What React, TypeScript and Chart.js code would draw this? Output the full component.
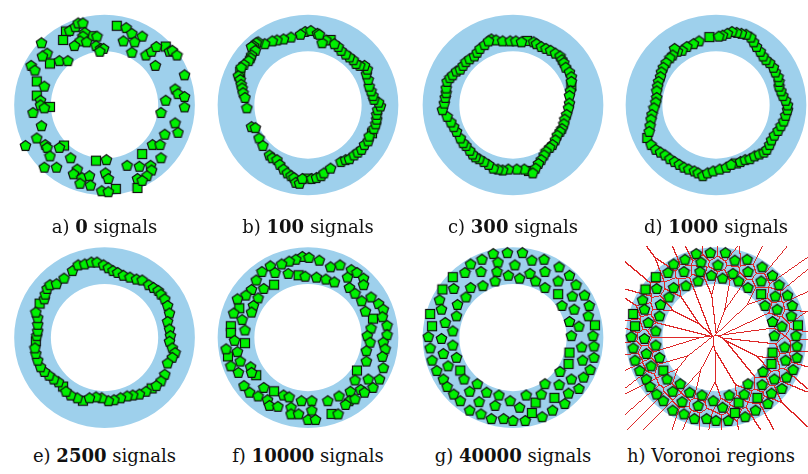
import React, { useEffect, useRef } from 'react';
import { Chart, registerables } from 'chart.js';

Chart.register(...registerables);

type P = [number, number];

// Ring geometry (data units: offsets from each ring centre)
const RING_OUTER = 96;
const RING_INNER = 57;

// a) 0 signals
const aPent: P[] = [[-37,-79],[-31,-83],[-28,-87],[-23,-87],[-21,-77],[-23,-73],[-26,-68],[-19,-67],[-8,-73],[-32,-63],[-9,-63],[-4,-60],[-1,-60],[-5,-57],[-67,-66],[-61,-55],[-66,-52],[-48,-47],[-39,-47],[-78,-42],[-74,-37],[23,-82],[29,-76],[40,-73],[20,-68],[32,-67],[29,-56],[44,-53],[50,-57],[55,-62],[69,-57],[72,-58],[77,-53],[54,-42],[85,-32],[-64,-20],[-68,-5],[-68,0],[-64,3],[-76,8],[-67,22],[-72,35],[-63,42],[-61,45],[-58,54],[-84,43],[-48,45],[-36,56],[75,-17],[78,-12],[85,-9],[65,-5],[85,2],[60,8],[75,19],[78,29],[64,31],[51,42],[59,42],[60,56],[-64,66],[-51,66],[-29,68],[-33,73],[-24,77],[-16,75],[-26,83],[-15,85],[2,58],[1,72],[4,78],[-3,91],[4,92],[24,64],[37,65],[49,64],[50,69],[45,75],[35,78],[40,80]];
const aSq: P[] = [[-41,-78],[-14,-73],[-44,-69],[-58,-44],[13,-84],[65,-62],[-72,-25],[-72,-10],[-58,2],[-43,43],[40,52],[-9,59],[12,89],[35,88]];

// b) 100 signals
const bPent: P[] = [[-3,-78],[3,-79],[10,-76],[-8,-75],[-18,-72],[-26,-70],[-33,-69],[-38,-68],[-46,-65],[-53,-67],[-55,-66],[-58,-63],[-60,-62],[-56,-58],[-60,-53],[-61,-50],[-63,-47],[-68,-43],[-71,-40],[-74,-31],[-72,-27],[-71,-22],[-70,-18],[-69,-13],[-67,-8],[-65,3],[-60,23],[-56,24],[-52,35],[-48,43],[-41,53],[-38,56],[-33,58],[-30,63],[-26,68],[-22,72],[-18,75],[-15,77],[-13,82],[-9,83],[-6,78],[4,78],[9,77],[14,75],[17,72],[24,67],[35,60],[40,58],[44,57],[49,53],[53,50],[57,47],[60,42],[64,38],[65,33],[70,25],[72,20],[73,15],[73,10],[74,5],[77,1],[75,-3],[70,-6],[69,-10],[67,-15],[65,-20],[64,-27],[62,-33],[63,-38],[60,-42],[55,-42],[51,-44],[48,-48],[44,-51],[40,-54],[35,-58],[32,-62],[28,-65],[19,-69],[15,-66],[12,-75]];
const bSq: P[] = [[-1,78],[68,30],[24,-69],[-72,-35]];

// c) 300 signals
const cPent: P[] = [[-23,-70],[-18,-69],[-11,-68],[-3,-68],[3,-68],[9,-67],[22,-67],[25,-65],[30,-62],[35,-60],[40,-58],[45,-55],[50,-52],[52,-48],[54,-45],[56,-40],[60,-35],[62,-30],[62,-25],[61,-15],[60,-10],[60,-2],[59,3],[57,10],[55,15],[54,20],[52,25],[50,28],[47,32],[45,37],[42,42],[39,45],[35,49],[33,53],[30,58],[27,62],[24,67],[21,72],[12,68],[4,68],[-5,68],[-11,69],[-16,68],[-21,67],[-26,63],[-31,60],[-36,57],[-40,55],[-43,52],[-46,48],[-50,43],[-53,40],[-56,35],[-60,28],[-63,23],[-66,18],[-70,12],[-75,5],[-73,-2],[-72,-8],[-71,-13],[-71,-18],[-70,-25],[-67,-29],[-64,-32],[-60,-36],[-56,-38],[-53,-42],[-50,-46],[-46,-49],[-41,-52],[-38,-56],[-35,-60],[-30,-64],[-26,-68]];
const cSq: P[] = [[15,-68],[62,-20],[17,70]];

// d) 1000 signals
const dPent: P[] = [[-18,-68],[-24,-65],[-31,-62],[-36,-58],[-41,-57],[-44,-60],[-46,-53],[-49,-50],[-53,-45],[-56,-40],[-58,-35],[-59,-30],[-61,-25],[-62,-20],[-63,-15],[-63,-8],[-64,-3],[-66,3],[-68,10],[-69,15],[-70,22],[-71,28],[-69,42],[-64,47],[-59,50],[-54,53],[-49,57],[-44,60],[-39,63],[-34,66],[-29,68],[-23,70],[-19,72],[-14,75],[-9,72],[-3,70],[4,68],[11,66],[16,63],[26,60],[31,58],[36,57],[41,54],[46,52],[51,50],[54,47],[57,42],[59,37],[62,32],[66,27],[69,22],[72,17],[74,11],[76,5],[76,0],[74,-5],[71,-10],[69,-15],[67,-20],[67,-25],[66,-30],[63,-35],[61,-40],[57,-45],[53,-48],[50,-52],[47,-57],[43,-62],[40,-67],[37,-72],[32,-75],[27,-76],[22,-77],[17,-78],[12,-76],[7,-74],[3,-73]];
const dSq: P[] = [[-7,-72],[21,62],[-73,35]];

// e) 2500 signals
const ePent: P[] = [[-34,-71],[-28,-77],[-21,-78],[-14,-80],[-8,-80],[-1,-77],[4,-74],[9,-71],[14,-69],[20,-66],[27,-64],[34,-62],[40,-61],[47,-56],[52,-53],[57,-50],[60,-46],[64,-41],[67,-34],[69,-26],[67,-17],[69,-9],[70,-2],[69,4],[72,11],[75,16],[72,21],[67,27],[64,39],[60,46],[55,51],[44,57],[37,60],[30,61],[24,62],[17,64],[10,66],[4,67],[-3,64],[-9,63],[-16,64],[-29,64],[-36,61],[-41,57],[-49,47],[-54,44],[-59,40],[-64,36],[-68,31],[-71,24],[-73,17],[-74,11],[-72,-2],[-71,-7],[-71,-14],[-71,-21],[-73,-27],[-64,-41],[-63,-46],[-61,-52],[-58,-56],[-51,-57],[-43,-63]];
const eSq: P[] = [[-69,-36],[-44,52],[-23,67],[50,54],[-73,4]];

// f) 10000 signals
const fPent: P[] = [[-6,-86],[1,-85],[12,-82],[-13,-83],[-20,-81],[-28,-78],[-40,-76],[24,-75],[34,-77],[46,-72],[-49,-70],[-35,-69],[-21,-68],[-3,-65],[9,-64],[19,-62],[28,-59],[42,-64],[52,-69],[59,-63],[-55,-61],[-60,-51],[-47,-52],[44,-53],[50,-47],[59,-56],[-66,-45],[-75,-41],[-53,-42],[-58,-34],[57,-39],[67,-43],[75,-36],[-79,-26],[-60,-27],[-70,-19],[80,-30],[61,-28],[79,-22],[-67,-8],[67,-10],[84,-13],[63,-2],[84,-3],[-78,3],[66,5],[80,5],[-87,12],[-75,15],[62,14],[82,12],[-72,25],[79,20],[62,25],[-82,30],[-61,31],[80,32],[-74,37],[-60,37],[50,45],[64,44],[76,44],[-68,51],[-47,53],[-62,58],[-26,61],[56,55],[45,57],[69,53],[60,58],[-53,62],[-43,66],[-20,63],[-7,67],[4,67],[21,67],[33,62],[44,67],[50,65],[-41,72],[-32,73],[-18,74],[4,77],[40,71],[-18,81],[-10,81],[32,81],[0,87],[8,87]];
const fSq: P[] = [[-10,-66],[-36,-56],[-73,-31],[69,-20],[-82,-12],[-82,-5],[-67,6],[-85,20],[-55,40],[52,35],[-36,57],[25,81]];

// g) 40000 signals (also the sites of h) Voronoi regions)
const gPent: P[] = [[-21,-89],[-6,-90],[10,-90],[-33,-83],[-45,-78],[-16,-80],[2,-77],[20,-82],[33,-83],[49,-75],[-51,-69],[-34,-70],[-17,-70],[-5,-66],[7,-63],[18,-68],[34,-70],[60,-66],[-63,-52],[-45,-53],[-32,-55],[-19,-60],[24,-60],[34,-53],[48,-60],[67,-56],[-78,-40],[-50,-43],[63,-44],[76,-45],[-76,-30],[-59,-35],[52,-34],[65,-30],[81,-34],[-60,-23],[-72,-16],[60,-17],[80,-23],[70,-12],[-64,-7],[-90,-1],[-76,1],[62,-2],[85,-2],[-64,8],[-88,11],[73,10],[86,9],[-74,17],[-60,21],[-86,24],[74,24],[-69,30],[86,21],[82,34],[-81,35],[50,36],[-52,44],[-74,44],[62,44],[75,42],[34,49],[49,50],[-70,52],[-38,49],[-28,58],[-15,61],[14,61],[30,60],[59,59],[70,54],[-63,60],[-46,57],[-56,67],[-36,68],[-3,67],[7,74],[-19,72],[55,70],[-46,77],[42,77],[-34,81],[-23,86],[-10,86],[0,88],[13,88],[31,84]];
const gSq: P[] = [[-64,-64],[-75,-51],[48,-46],[-88,-25],[-86,-12],[87,-13],[60,16],[59,28],[-56,35],[44,64],[24,69],[20,80]];

const LETTERS = ['a', 'b', 'c', 'd', 'e', 'f', 'g', 'h'];
const SIGNALS = ['0', '100', '300', '1000', '2500', '10000', '40000', ''];
const CAPTION_TAIL = ['signals', 'signals', 'signals', 'signals', 'signals', 'signals', 'signals', 'Voronoi regions'];

const PANEL_PENT = [aPent, bPent, cPent, dPent, ePent, fPent, gPent, gPent];
const PANEL_SQ = [aSq, bSq, cSq, dSq, eSq, fSq, gSq, gSq];

// layout
const COL_CX = [104.5, 308, 513, 716];
const ROW_CY = [105, 337.5];
const LABEL_Y = [227, 456];
const CW = 204;
const CH = 210;
const RING_COLOR = 'rgb(158,208,236)';
const GREEN = '#00f000';
const VOR_BOX = 97;

function makePentagon(): HTMLCanvasElement {
  const c = document.createElement('canvas');
  c.width = 13; c.height = 13;
  const g = c.getContext('2d')!;
  g.beginPath();
  for (let k = 0; k < 5; k++) {
    const a = (-90 + k * 72) * Math.PI / 180;
    const x = 6.5 + 5.5 * Math.cos(a), y = 6.9 + 5.5 * Math.sin(a);
    if (k === 0) g.moveTo(x, y); else g.lineTo(x, y);
  }
  g.closePath();
  g.fillStyle = GREEN; g.fill();
  g.lineWidth = 1.2; g.strokeStyle = '#111'; g.stroke();
  return c;
}

function makeSquare(): HTMLCanvasElement {
  const c = document.createElement('canvas');
  c.width = 12; c.height = 12;
  const g = c.getContext('2d')!;
  g.fillStyle = GREEN; g.fillRect(1.5, 1.5, 9, 9);
  g.lineWidth = 1.2; g.strokeStyle = '#111'; g.strokeRect(1.5, 1.5, 9, 9);
  return c;
}

const ringPlugin = {
  id: 'ring',
  beforeDatasetsDraw(chart: any, _args: any, opts: any) {
    const { ctx } = chart;
    const xs = chart.scales.x, ys = chart.scales.y;
    const px = xs.getPixelForValue(0), py = ys.getPixelForValue(0);
    const ro = xs.getPixelForValue(RING_OUTER) - px;
    const ri = xs.getPixelForValue(RING_INNER) - px;
    ctx.save();
    ctx.beginPath();
    ctx.arc(px, py, ro, 0, Math.PI * 2);
    ctx.arc(px, py, ri, 0, Math.PI * 2, true);
    ctx.fillStyle = RING_COLOR;
    ctx.fill();
    if (opts && opts.voronoi) {
      const sites: { x: number; y: number }[] = [];
      chart.data.datasets.forEach((_d: any, i: number) => {
        chart.getDatasetMeta(i).data.forEach((el: any) => sites.push({ x: el.x, y: el.y }));
      });
      const x0 = Math.round(xs.getPixelForValue(-VOR_BOX));
      const x1 = Math.min(chart.width, Math.round(xs.getPixelForValue(VOR_BOX)));
      const y0 = Math.round(ys.getPixelForValue(-VOR_BOX));
      const y1 = Math.round(ys.getPixelForValue(VOR_BOX));
      const w = x1 - x0 + 1, h = y1 - y0 + 1;
      const lab = new Int16Array(w * h);
      for (let j = 0; j < h; j++) {
        for (let i = 0; i < w; i++) {
          const X = x0 + i + 0.5, Y = y0 + j + 0.5;
          let best = 0, bd = Infinity;
          for (let s = 0; s < sites.length; s++) {
            const dx = sites[s].x - X, dy = sites[s].y - Y;
            const d = dx * dx + dy * dy;
            if (d < bd) { bd = d; best = s; }
          }
          lab[j * w + i] = best;
        }
      }
      ctx.fillStyle = 'rgb(222,40,40)';
      ctx.beginPath();
      for (let j = 0; j < h; j++) {
        for (let i = 0; i < w; i++) {
          const v = lab[j * w + i];
          if ((i + 1 < w && lab[j * w + i + 1] !== v) || (j + 1 < h && lab[(j + 1) * w + i] !== v)) {
            ctx.rect(x0 + i, y0 + j, 1, 1);
          }
        }
      }
      ctx.fill();
    }
    ctx.restore();
  },
};

function Panel({ idx }: { idx: number }) {
  const ref = useRef<HTMLCanvasElement>(null);
  const cx = COL_CX[idx % 4];
  const cy = ROW_CY[Math.floor(idx / 4)];
  const left = Math.round(cx - CW / 2);
  const top = Math.round(cy) - CH / 2;
  useEffect(() => {
    const pent = makePentagon();
    const sq = makeSquare();
    const toXY = (arr: P[]) => arr.map(([x, y]) => ({ x, y }));
    const chart = new Chart(ref.current!, {
      type: 'scatter',
      data: {
        datasets: [
          { data: toXY(PANEL_PENT[idx]), pointStyle: pent as any, pointRadius: 5, pointHoverRadius: 5, clip: false as any },
          { data: toXY(PANEL_SQ[idx]), pointStyle: sq as any, pointRadius: 5, pointHoverRadius: 5, clip: false as any },
        ],
      },
      options: {
        animation: false,
        responsive: false,
        devicePixelRatio: 1,
        events: [],
        layout: { padding: 0 },
        plugins: {
          legend: { display: false },
          tooltip: { enabled: false },
          ring: { voronoi: idx === 7 },
        } as any,
        scales: {
          x: { type: 'linear', display: false, min: left - cx, max: left + CW - cx },
          y: { type: 'linear', display: false, reverse: true, min: top - cy, max: top + CH - cy },
        },
      },
      plugins: [ringPlugin as any],
    });
    return () => chart.destroy();
  }, [idx]);
  return (
    <canvas ref={ref} width={CW} height={CH} style={{ position: 'absolute', left, top, width: CW, height: CH }} />
  );
}

export default function App() {
  return (
    <div style={{ position: 'fixed', left: 0, top: 0, width: 808, height: 474, overflow: 'hidden', background: '#fff' }}>
      {LETTERS.map((_l, i) => <Panel key={i} idx={i} />)}
      {LETTERS.map((l, i) => {
        const cx = COL_CX[i % 4] - (i === 7 ? 5 : 0);
        const ly = LABEL_Y[Math.floor(i / 4)];
        return (
          <div key={'t' + i} style={{ position: 'absolute', left: cx - 110, width: 220, top: ly - 11, height: 22, lineHeight: '22px', textAlign: 'center', fontFamily: '"DejaVu Serif", serif', fontSize: 18, color: '#111', whiteSpace: 'nowrap' }}>
            {l}){' '}
            {SIGNALS[i] ? <b>{SIGNALS[i]}</b> : null}
            {SIGNALS[i] ? ' ' : ''}
            {CAPTION_TAIL[i]}
          </div>
        );
      })}
    </div>
  );
}
